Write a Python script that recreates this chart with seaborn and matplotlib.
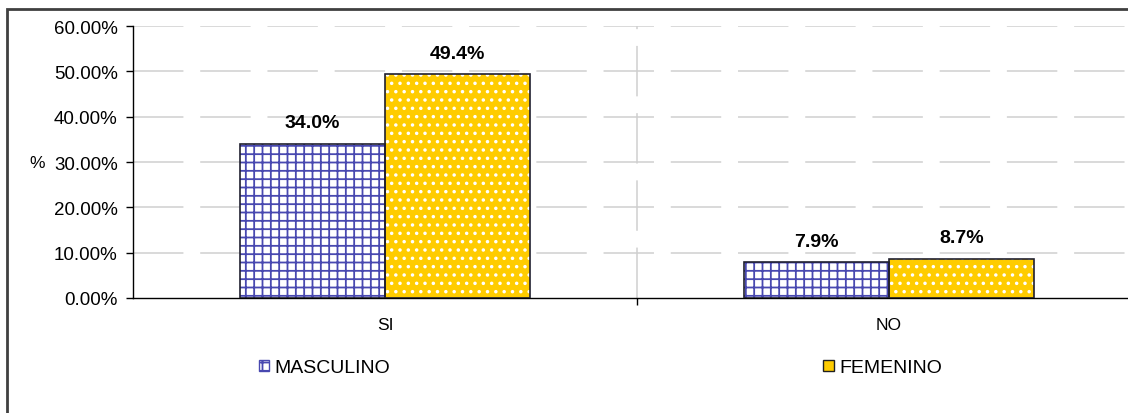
import pandas as pd
import seaborn as sns
import matplotlib.pyplot as plt
from matplotlib.patches import Rectangle, Patch
from matplotlib.ticker import FuncFormatter

# data
categorias = ["SI", "NO"]
masculino = [34.0, 7.9]
femenino = [49.4, 8.7]
sexos = ["MASCULINO", "FEMENINO"]
y_ticks = [0, 10, 20, 30, 40, 50, 60]

df = pd.DataFrame({
    "respuesta": categorias * 2,
    "sexo": [sexos[0]] * 2 + [sexos[1]] * 2,
    "valor": masculino + femenino,
})

sns.set_style("white")
plt.rcParams['font.family'] = ['Liberation Sans', 'DejaVu Sans']
plt.rcParams['text.color'] = "black"
plt.rcParams['xtick.color'] = "black"
plt.rcParams['ytick.color'] = "black"
plt.rcParams['axes.labelcolor'] = "black"
plt.rcParams['hatch.linewidth'] = 1.3

fig = plt.figure(figsize=(11.28, 4.14), dpi=100)
ax = fig.add_axes([133 / 1128, 1 - 299 / 414, 1008 / 1128, 272 / 414])

sns.barplot(data=df, x="respuesta", y="valor", hue="sexo", order=categorias,
            hue_order=sexos, palette=["white", "#FFCC00"], width=0.576,
            gap=0, ax=ax, legend=False, saturation=1)

# patterns: blue brick-like grid for MASCULINO, white dots for FEMENINO
for p in ax.patches:
    fc = p.get_facecolor()
    if fc[2] > 0.9:  # white bar
        p.set_hatch("++")
        p.set_edgecolor("#4848b0")
        p.set_linewidth(0)
    else:
        p.set_hatch("..")
        p.set_edgecolor("white")
        p.set_linewidth(0)
    x, y = p.get_xy()
    ax.add_patch(Rectangle((x, y), p.get_width(), p.get_height(), fill=False,
                           edgecolor="#202030", linewidth=1.2, zorder=3))

for cont in ax.containers:
    ax.bar_label(cont, fmt="%.1f%%", padding=9, fontsize=14, fontweight="bold")

ax.set_xlim(-0.5, 1.5)
ax.set_ylim(0, 60)
ax.set_yticks(y_ticks)
ax.yaxis.set_major_formatter(FuncFormatter(lambda v, _: f"{v:.2f}%"))
ax.tick_params(axis="y", direction="out", length=5, width=1,
               labelsize=13.5, pad=6, left=True)
ax.tick_params(axis="x", length=0, labelsize=12.5, pad=14)
ax.set_xticks([0.5], minor=True)
ax.tick_params(axis="x", which="minor", direction="out", length=5, width=1,
               bottom=True)
ax.set_xlabel("")
ax.set_ylabel("%", rotation=0, fontsize=12.5, labelpad=12, va="center")

# dashed grid lines
for v in y_ticks[1:]:
    ax.axhline(v, color="#cfcfcf", lw=1.1, dashes=(33, 11), zorder=0)
ax.axvline(0.5, color="#cfcfcf", lw=1.1, dashes=(33, 11), zorder=0)

for s in ["top", "right"]:
    ax.spines[s].set_visible(False)
for s in ["left", "bottom"]:
    ax.spines[s].set_color("black")
    ax.spines[s].set_linewidth(1)

handles = [Patch(facecolor="white", edgecolor="#4848b0", hatch="++"),
           Patch(facecolor="#FFCC00", edgecolor="#202020")]
fig.legend(handles, sexos, ncol=2, loc="center left",
           bbox_to_anchor=(241 / 1128, 1 - 369 / 414), frameon=False,
           fontsize=14, handlelength=0.55, handleheight=0.55,
           handletextpad=0.25, columnspacing=22.3)

# outer chart border (clipped at right and bottom like the source)
fig.patches.append(Rectangle((7 / 1128, -0.1), 1.2, 0.1 + 1 - 10 / 414,
                             transform=fig.transFigure, fill=False,
                             edgecolor="#404040", linewidth=2))

fig.savefig("out.png", dpi=100)
